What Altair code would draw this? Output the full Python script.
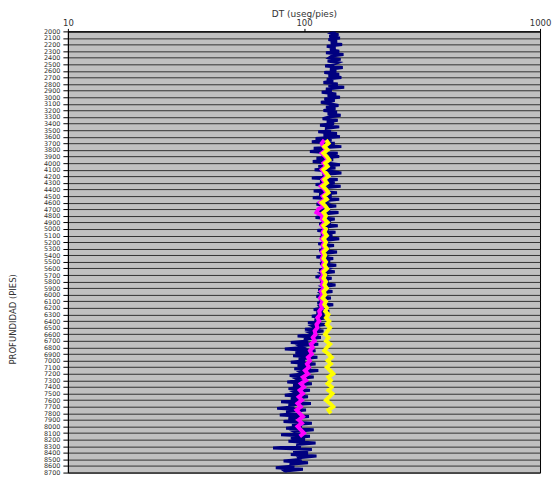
import altair as alt
import pandas as pd

# ---- axis ticks ----
depth_ticks = list(range(2000, 8701, 100))
x_ticks = [10, 100, 1000]

# ---- navy DT log (every 25 ft, 2000-8700) ----
navy_depth = list(range(2000, 8701, 25))
navy_dt = [
    136, 131, 140, 128,  142, 127, 138, 130,  145, 125, 136, 129,  141, 124, 147, 131,
    128, 143, 126, 139,  133, 123, 146, 129,  137, 122, 141, 127,  144, 125, 133, 121,
    139, 127, 148, 124,  131, 119, 137, 126,
    142, 122, 135, 118,  129, 140, 124, 136,  121, 138, 126, 143,  128, 120, 139, 125,
    134, 117, 141, 123,  130, 115, 138, 121,  142, 112, 131, 108,  135, 118, 144, 110,
    127, 106, 139, 119,  141, 113, 133, 109,
    125, 142, 115, 136,  111, 130, 144, 120,  128, 108, 139, 117,  135, 112, 143, 121,
    126, 110, 138, 116,  131, 109, 141, 119,  124, 113, 137, 118,  129, 115, 140, 121,
    123, 112, 135, 119,  130, 116, 139, 120,
    127, 114, 136, 118,  132, 117, 141, 122,  125, 115, 134, 119,  128, 116, 138, 121,
    124, 113, 133, 118,  129, 117, 137, 120,  126, 116, 135, 119,  123, 112, 131, 117,
    127, 118, 136, 120,  124, 115, 132, 118,
    121, 113, 130, 116,  125, 114, 133, 117,  119, 110, 128, 113,  122, 108, 126, 111,
    117, 104, 124, 109,  113, 101, 121, 106,  110, 94, 118, 100,  104, 88, 115, 96,
    99, 83, 112, 92,  106, 90, 114, 95,
    101, 88, 112, 94,  107, 91, 115, 97,  100, 87, 110, 93,  96, 85, 108, 90,
    99, 86, 106, 91,  94, 83, 104, 88,  97, 80, 107, 86,  91, 77, 102, 84,
    95, 79, 105, 86,  92, 82, 108, 89,
    98, 84, 110, 91,  94, 80, 106, 88,  101, 86, 112, 93,  97, 74, 108, 90,
    104, 88, 113, 95,  96, 82, 104, 87,  91, 76, 99, 83,
    85,
]

# ---- yellow series (every 50 ft, 3650-7800) ----
yellow_depth = list(range(3650, 7801, 50))
yellow_dt = [
    124, 127, 122, 126, 121, 125, 128, 123, 126, 121,
    124, 127, 122, 125, 120, 124, 127, 122, 125, 119,
    123, 126, 121, 124, 122, 126, 121, 124, 122, 125,
    121, 124, 122, 125, 121, 123, 121, 124, 122, 125,
    121, 123, 121, 124, 122, 125, 121, 123, 120, 124,
    122, 125, 123, 127, 124, 128, 125, 129, 126, 123,
    127, 124, 129, 125, 122, 127, 131, 126, 130, 125,
    129, 133, 127, 130, 126, 131, 127, 132, 128, 124,
    129, 133, 127, 130,
]

# ---- magenta series (every 50 ft, 3650-8150) ----
magenta_depth = list(range(3650, 8151, 50))
magenta_dt = [
    122, 119, 121, 124, 119, 123, 126, 121, 124, 119,
    122, 125, 120, 123, 118, 122, 125, 120, 123, 117,
    121, 115, 113, 120, 119, 123, 119, 122, 120, 123,
    119, 122, 120, 123, 119, 121, 119, 122, 120, 123,
    119, 121, 118, 121, 119, 122, 118, 120, 117, 120,
    118, 119, 116, 117, 114, 116, 113, 114, 111, 112,
    109, 111, 107, 109, 106, 108, 104, 106, 103, 105,
    101, 104, 99, 102, 97, 100, 96, 99, 95, 98,
    94, 97, 93, 96, 99, 95, 98, 94, 97, 100,
    96,
]

df_navy = pd.DataFrame({"depth": navy_depth, "dt": navy_dt})
df_yel = pd.DataFrame({"depth": yellow_depth, "dt": yellow_dt})
df_mag = pd.DataFrame({"depth": magenta_depth, "dt": magenta_dt})

x_enc = alt.X(
    "dt:Q",
    scale=alt.Scale(type="log", domain=[10, 1000], nice=False),
    axis=alt.Axis(
        orient="top", values=x_ticks, format="d", title="DT (useg/pies)",
        grid=False, tickSize=3, labelPadding=1, labelFontSize=8.5,
        titleFontSize=9, titleFontWeight="normal", titleBaseline="middle", titleY=-18,
        labelFlush=False,
    ),
)
y_enc = alt.Y(
    "depth:Q",
    scale=alt.Scale(domain=[2000, 8700], reverse=True, nice=False, zero=False),
    axis=alt.Axis(
        values=depth_ticks, format="d", title="PROFUNDIDAD (PIES)",
        labelOverlap=False, labelFlush=False, labelBound=False,
        tickSize=5, labelPadding=3, labelFontSize=6.5,
        grid=True, gridColor="#1a1a1a", gridWidth=1, gridOpacity=0.85,
        titleFontSize=8.5, titleFontWeight="normal", titleX=-50, titleY=288,
    ),
)

navy = alt.Chart(df_navy).mark_line(color="#000080", strokeWidth=3, clip=True).encode(
    x=x_enc, y=y_enc, order="depth:Q"
)
mag = alt.Chart(df_mag).mark_line(color="#ff00ff", strokeWidth=4, clip=True).encode(
    x=x_enc, y=y_enc, order="depth:Q"
)
yel = alt.Chart(df_yel).mark_line(color="#ffff00", strokeWidth=4, clip=True).encode(
    x=x_enc, y=y_enc, order="depth:Q"
)

chart = (
    alt.layer(navy, mag, yel)
    .properties(
        width=473, height=442, autosize="none",
        padding={"left": 60, "top": 23, "right": 12, "bottom": 6},
        background="white",
    )
    .configure_view(fill="#c0c0c0", stroke="#000000", strokeWidth=1)
    .configure_axis(
        labelFont="DejaVu Sans", titleFont="DejaVu Sans",
        labelColor="#333333", titleColor="#333333",
        domainColor="#000000", tickColor="#000000",
    )
)

chart.save("out.html", embed_options={"renderer": "svg", "actions": False})
